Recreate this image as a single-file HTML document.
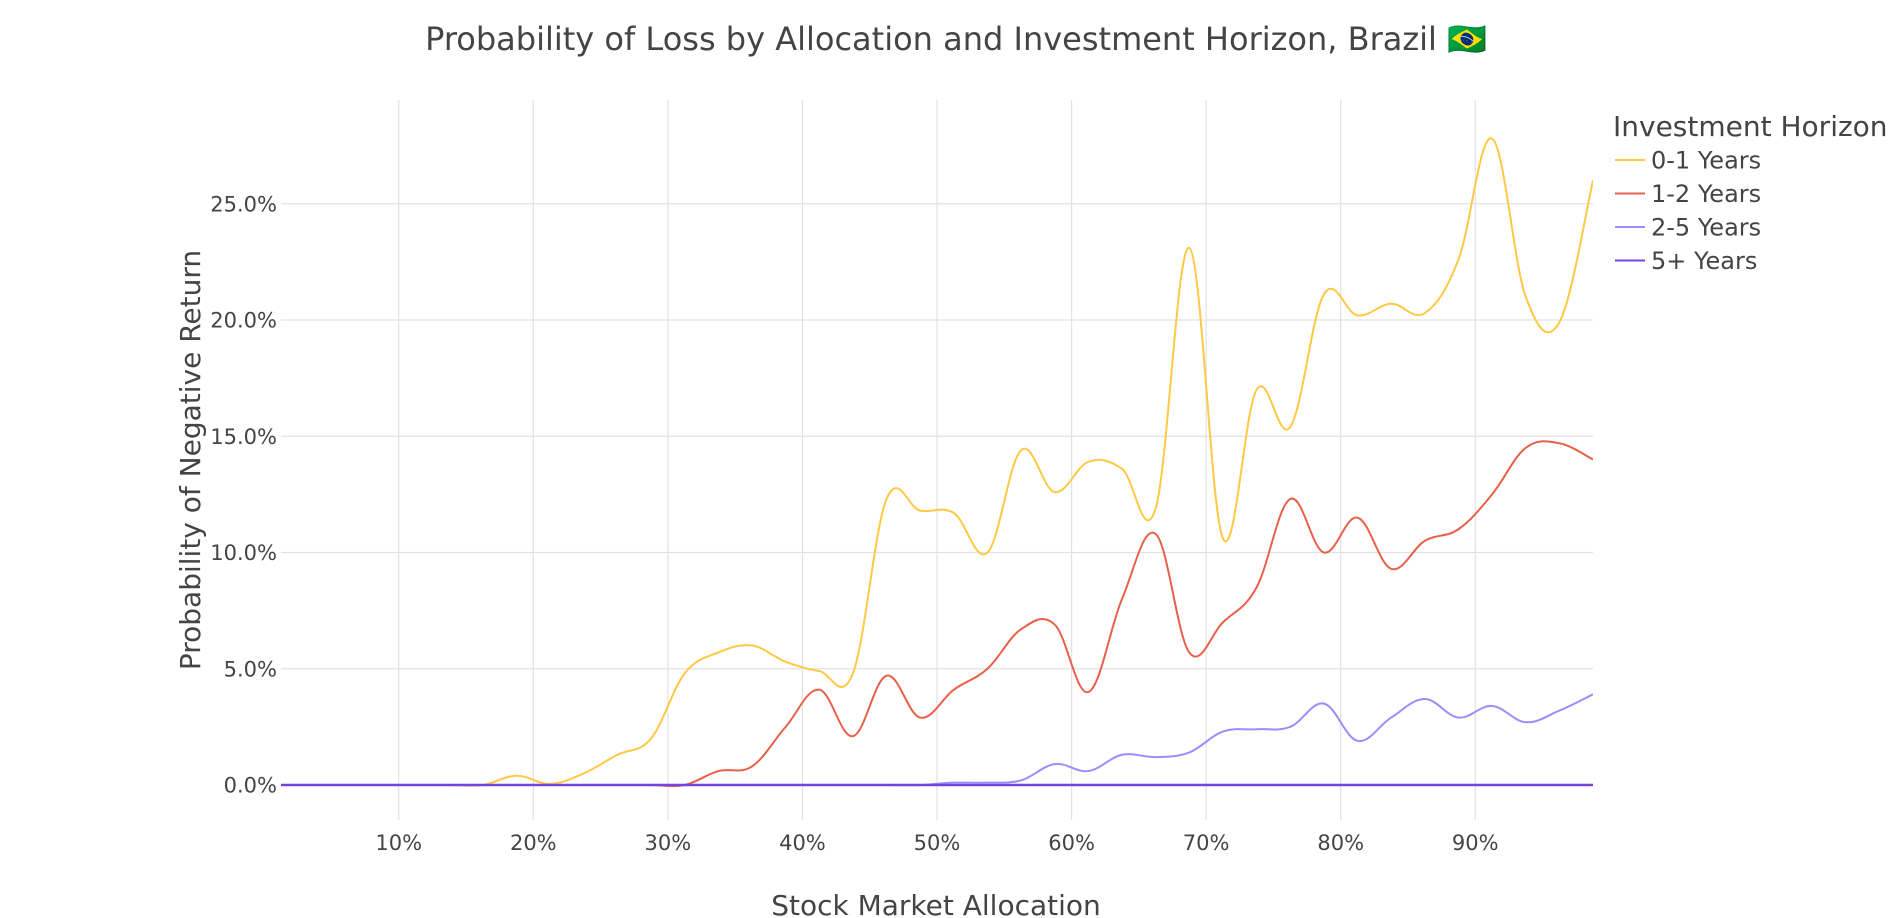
<!DOCTYPE html>
<html><head><meta charset="utf-8">
<style>
html,body{margin:0;padding:0;background:#fff;}
svg{display:block;font-family:"DejaVu Sans","Liberation Sans",sans-serif;}
</style></head>
<body>
<svg id="chart" width="1904" height="918" viewBox="0 0 1904 918">
  <text x="956" y="50" font-size="32" fill="#444" text-anchor="middle">Probability of Loss by Allocation and Investment Horizon, Brazil 🇧🇷</text>
  <g id="grid"></g>
  <g id="series" clip-path="url(#clip)"></g>
  <defs><clipPath id="clip"><rect x="281" y="100" width="1312" height="720"/></clipPath></defs>
  <g id="ticks"></g>
  <text x="936" y="915" font-size="28" fill="#444" text-anchor="middle">Stock Market Allocation</text>
  <text x="0" y="0" font-size="28" fill="#444" text-anchor="middle" transform="translate(200,460) rotate(-90)">Probability of Negative Return</text>
  <g id="legend">
    <text x="1613" y="136" font-size="28" fill="#444">Investment Horizon</text>
  </g>
</svg>
<script>
const xValues = [1.25,3.75,6.25,8.75,11.25,13.75,16.25,18.75,21.25,23.75,26.25,28.75,31.25,33.75,36.25,38.75,41.25,43.75,46.25,48.75,51.25,53.75,56.25,58.75,61.25,63.75,66.25,68.75,71.25,73.75,76.25,78.75,81.25,83.75,86.25,88.75,91.25,93.75,96.25,98.75];
const y01 = [0,0,0,0,0,0,0,0.4,0.05,0.5,1.3,2.0,4.8,5.7,6.0,5.3,4.9,4.8,12.3,11.8,11.7,10.0,14.4,12.6,13.9,13.6,11.9,23.1,10.6,17.0,15.4,21.1,20.2,20.7,20.3,22.6,27.8,21.0,19.9,26.0];
const y12 = [0,0,0,0,0,0,0,0,0,0,0,0,0,0.6,0.8,2.5,4.1,2.1,4.7,2.9,4.1,5.0,6.7,6.9,4.0,8.0,10.8,5.7,7.0,8.5,12.3,10.0,11.5,9.3,10.5,11.0,12.5,14.5,14.7,14.0];
const y25 = [0,0,0,0,0,0,0,0,0,0,0,0,0,0,0,0,0,0,0,0,0.1,0.1,0.2,0.9,0.6,1.3,1.2,1.4,2.3,2.4,2.5,3.5,1.9,2.9,3.7,2.9,3.4,2.7,3.2,3.9];
const y5p = [0,0,0,0,0,0,0,0,0,0,0,0,0,0,0,0,0,0,0,0,0,0,0,0,0,0,0,0,0,0,0,0,0,0,0,0,0,0,0,0];
const seriesNames = ["0-1 Years","1-2 Years","2-5 Years","5+ Years"];
const xTicks = [10,20,30,40,50,60,70,80,90];
const yTicks = [0,5,10,15,20,25];

const NS="http://www.w3.org/2000/svg";
const L=281,R=1593,T=100,B=820;
const X=v=>L+(v-1.25)/(97.5)*(R-L);
const Y=v=>785-v*23.25;
function mk(tag,attrs,parent){const e=document.createElementNS(NS,tag);for(const k in attrs)e.setAttribute(k,attrs[k]);parent.appendChild(e);return e;}
const grid=document.getElementById('grid'),ticks=document.getElementById('ticks');
xTicks.forEach(t=>{
  const l=mk('line',{x1:X(t),x2:X(t),y1:T,y2:B,stroke:'#e2e2e2','stroke-width':1.2},grid);
  
  
  const tx=mk('text',{x:X(t),y:850,'font-size':21,fill:'#444','text-anchor':'middle'},ticks);
  tx.textContent=t+'%';
  
  
});
yTicks.forEach(t=>{
  const l=mk('line',{x1:L,x2:R,y1:Y(t),y2:Y(t),stroke:'#e2e2e2','stroke-width':1.2},grid);
  
  
  const tx=mk('text',{x:277,y:Y(t)+7.5,'font-size':21,fill:'#444','text-anchor':'end'},ticks);
  tx.textContent=t.toFixed(1)+'%';
  
  
});
function spline(xs,ys){
  const p=xs.map((x,i)=>[X(x),Y(ys[i])]);
  let d='M'+p[0][0]+','+p[0][1];
  const s=0.18;
  for(let i=0;i<p.length-1;i++){
    const p0=p[Math.max(0,i-1)],p1=p[i],p2=p[i+1],p3=p[Math.min(p.length-1,i+2)];
    const c1=[p1[0]+(p2[0]-p0[0])*s,p1[1]+(p2[1]-p0[1])*s];
    const c2=[p2[0]-(p3[0]-p1[0])*s,p2[1]-(p3[1]-p1[1])*s];
    d+=' C'+c1+' '+c2+' '+p2;
  }
  return d;
}
const colors=['#FFC845','#E8604A','#9D8CFF','#7444E0'];
const data=[y01,y12,y25,y5p];
const names=['line-0-1-years','line-1-2-years','line-2-5-years','line-5plus-years'];
const sg=document.getElementById('series');
data.forEach((ys,i)=>{
  const p=mk('path',{d:spline(xValues,ys),fill:'none',stroke:colors[i],'stroke-width':i==3?2.6:2},sg);
  
  
});
const lg=document.getElementById('legend');
seriesNames.forEach((n,i)=>{
  const y=160+i*33.5;
  const g=mk('g',{},lg);
  
  
  mk('line',{x1:1615,x2:1645,y1:y,y2:y,stroke:colors[i],'stroke-width':2},g);
  const t=mk('text',{x:1651,y:y+8.5,'font-size':24,fill:'#444'},g);
  t.textContent=n;
});
</script>
</body></html>
